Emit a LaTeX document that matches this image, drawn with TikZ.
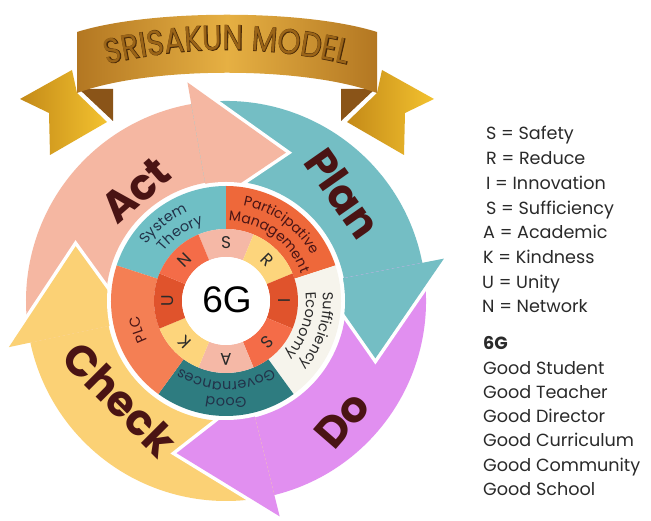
\documentclass[tikz,border=0pt]{standalone}
\usepackage{fontspec}
\newfontfamily\popp{Poppins}
\newfontfamily\bannerfont[FakeStretch=0.84]{Poppins}
\newfontfamily\bannerbold[FakeStretch=0.84,FakeBold=2.5]{Poppins}
\newfontfamily\lib{Liberation Sans}
\usetikzlibrary{decorations.text}
\definecolor{actc}{HTML}{F5B7A2}
\definecolor{planc}{HTML}{74BEC4}
\definecolor{doc}{HTML}{E18FF0}
\definecolor{checkc}{HTML}{FBD175}
\definecolor{sysc}{HTML}{6FBFC5}
\definecolor{partc}{HTML}{EE683A}
\definecolor{suffc}{HTML}{F6F4EC}
\definecolor{govc}{HTML}{2E7C80}
\definecolor{plcc}{HTML}{F47F54}
\definecolor{ltpink}{HTML}{F5B8A6}
\definecolor{ltyel}{HTML}{FDD57C}
\definecolor{dkred}{HTML}{E0532C}
\definecolor{orng}{HTML}{F46C48}
\definecolor{maroon}{HTML}{4A1414}
\definecolor{navy}{HTML}{22334A}
\definecolor{goldA}{HTML}{C48A18}
\definecolor{goldB}{HTML}{F3C22F}
\definecolor{bannerA}{HTML}{B37722}
\definecolor{bannerB}{HTML}{E6B043}
\definecolor{foldc}{HTML}{8A5418}
\definecolor{bantext}{HTML}{9A6418}
\definecolor{banline}{HTML}{4A2A08}
\definecolor{txtdark}{HTML}{2A2A2A}
\newcommand{\arctext}[5]{%
  \path[decorate,decoration={text along path,text align=center,
    text={|\popp\fontsize{#5}{#5}\selectfont\color{#4}|#3}}]
    ({#1+45}:#2pt) arc ({#1+45}:{#1-45}:#2pt);}
\begin{document}
\begin{tikzpicture}[x=1pt,y=1pt,
  arrowlbl/.style={font=\popp\bfseries\fontsize{43}{43}\selectfont,text=maroon,inner sep=0pt},
  ringletter/.style={font=\popp\fontsize{17}{17}\selectfont,text=txtdark,inner sep=0pt},
  legend/.style={font=\popp\fontsize{17.6}{17.6}\selectfont,text=txtdark,anchor=base west,inner sep=0pt}]
\useasboundingbox (0,0) rectangle (651,521);
\fill[white] (0,0) rectangle (651,521);

% ---- ribbon tails ----
\shade[left color=goldA,right color=goldB] (72,451) -- (20,422) -- (49,408) -- (50,366) -- (107,399) -- (77,428) -- cycle;
\fill[foldc] (79,432) -- (113,432) -- (113,400) -- cycle;
\begin{scope}[xshift=454pt,xscale=-1]
\shade[left color=goldA,right color=goldB] (72,451) -- (20,422) -- (49,408) -- (50,366) -- (107,399) -- (77,428) -- cycle;
\fill[foldc] (79,432) -- (113,432) -- (113,400) -- cycle;
\end{scope}
% ---- main banner ----
\shade[left color=bannerA,right color=bannerA,middle color=bannerB]
  (77,428) -- (77,489) .. controls (150,512) and (304,512) .. (377,489)
  -- (377,428) .. controls (304,455) and (150,455) .. (77,428) -- cycle;
\path[decorate,decoration={text along path,text align=center,
  text={|\bannerbold\fontsize{35}{35}\selectfont\color{banline}|SRISAKUN MODEL}}]
  (227,-36) ++(110:507pt) arc (110:70:507pt);
\path[decorate,decoration={text along path,text align=center,
  text={|\bannerfont\fontsize{35}{35}\selectfont\color{bantext}|SRISAKUN MODEL}}]
  (227,-36) ++(110:507pt) arc (110:70:507pt);

% ---- PDCA arrows ----
\begin{scope}[shift={(226,220)}]
\fill[actc] (192:200pt) arc (192:100:200pt) -- (100:120pt) arc (100:192:120pt) -- cycle;
\fill[planc] (100:200pt) arc (100:11:200pt) -- (11:120pt) arc (11:100:120pt) -- cycle;
\fill[doc] (11:200pt) arc (11:-76:200pt) -- (-76:120pt) arc (-76:11:120pt) -- cycle;
\fill[checkc] (-76:200pt) arc (-76:-168:200pt) -- (-168:120pt) arc (-168:-76:120pt) -- cycle;
\foreach \b/\c in {100/actc,11/planc,-76/doc,-168/checkc}{
  \pgfmathsetmacro{\t}{\b-32}
  \draw[white,line width=7pt] (\b:222pt) -- (\t:160pt) -- (\b:98pt);
  \fill[\c] (\b:222pt) -- (\t:160pt) -- (\b:98pt) -- cycle;
}
% white gap disc
\fill[white] (0,0) circle (119pt);
% label ring
\fill[sysc] (162:115pt) arc (162:90:115pt) -- (90:72pt) arc (90:162:72pt) -- cycle;
\fill[partc] (90:115pt) arc (90:18:115pt) -- (18:72pt) arc (18:90:72pt) -- cycle;
\fill[suffc] (18:115pt) arc (18:-54:115pt) -- (-54:72pt) arc (-54:18:72pt) -- cycle;
\fill[govc] (-54:115pt) arc (-54:-126:115pt) -- (-126:72pt) arc (-126:-54:72pt) -- cycle;
\fill[plcc] (-126:115pt) arc (-126:-198:115pt) -- (-198:72pt) arc (-198:-126:72pt) -- cycle;
% letter ring
\foreach \a/\c in {90/ltpink,45/ltyel,0/dkred,-45/orng,-90/ltpink,-135/ltyel,-180/dkred,-225/orng}{
  \pgfmathsetmacro{\s}{\a+22.5}\pgfmathsetmacro{\e}{\a-22.5}
  \fill[\c] (\s:72pt) arc (\s:\e:72pt) -- (\e:44pt) arc (\e:\s:44pt) -- cycle;
}
\fill[white] (0,0) circle (44pt);
% label ring texts
\arctext{129}{97}{System}{navy}{14.5}
\arctext{124}{80}{Theory}{navy}{14.5}
\arctext{54}{97}{Participative}{maroon}{14}
\arctext{54}{80}{Management}{maroon}{14}
\arctext{-18}{97}{Sufficiency}{txtdark}{14.5}
\arctext{-18}{80}{Economy}{txtdark}{14.5}
\arctext{-90}{97}{Good}{navy}{14.5}
\arctext{-90}{81}{Governances}{navy}{14.5}
\arctext{-162}{88}{PLC}{maroon}{14.5}
% letters
\foreach \a/\l/\n in {90/S/ls,45/R/lr,0/I/li,-45/S/lss,-90/A/la,-135/K/lk,-180/U/lu,-225/N/ln}{
  \pgfmathsetmacro{\r}{\a-90}
  \node[ringletter,rotate=\r] (\n) at (\a:58pt) {\l};
}
\end{scope}
\node[font=\lib\fontsize{37}{37}\selectfont,text=black] (sixg) at (227,221) {6G};

% arrow labels
\node[arrowlbl,rotate=41] (act) at (136,331) {Act};
\node[arrowlbl,rotate=-55] (plan) at (343,328) {Plan};
\node[arrowlbl,rotate=49] (do) at (342,101) {Do};
\node[arrowlbl,rotate=-45] (check) at (120,122) {Check};

% legend
\node[legend] (l1) at (486,381) {S = Safety};
\node[legend] (l2) at (486,356.3) {R = Reduce};
\node[legend] (l3) at (486,331.6) {I = Innovation};
\node[legend] (l4) at (486,306.9) {S = Sufficiency};
\node[legend] (l5) at (483,282.2) {A = Academic};
\node[legend] (l6) at (483,257.5) {K = Kindness};
\node[legend] (l7) at (482,232.8) {U = Unity};
\node[legend] (l8) at (482,208.1) {N = Network};
\node[legend,font=\popp\bfseries\fontsize{17.6}{17.6}\selectfont] (g0) at (483,171) {6G};
\node[legend] (g1) at (483,146) {Good Student};
\node[legend] (g2) at (483,122) {Good Teacher};
\node[legend] (g3) at (483,98) {Good Director};
\node[legend] (g4) at (483,74) {Good Curriculum};
\node[legend] (g5) at (483,49) {Good Community};
\node[legend] (g6) at (483,25) {Good School};
\end{tikzpicture}
\end{document}
